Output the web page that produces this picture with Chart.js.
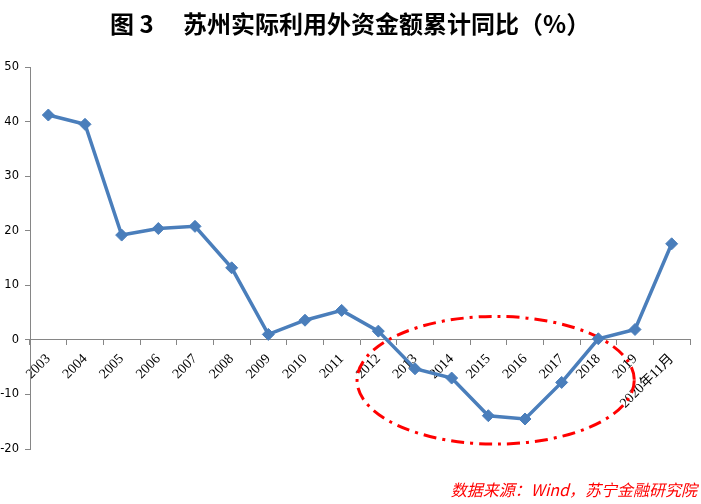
<!DOCTYPE html>
<html>
<head>
<meta charset="utf-8">
<script src="https://cdn.jsdelivr.net/npm/chart.js@4.4.1/dist/chart.umd.min.js"></script>
<style>
  html, body { margin: 0; padding: 0; background: #ffffff; }
  #wrap { width: 701px; height: 504px; position: relative; }
</style>
</head>
<body>
<div id="wrap"><canvas id="c"></canvas></div>
<script>
const titleText = '图 3　 苏州实际利用外资金额累计同比（%）';
const sourceText = '数据来源：Wind，苏宁金融研究院';
const categories = ['2003','2004','2005','2006','2007','2008','2009','2010','2011','2012','2013','2014','2015','2016','2017','2018','2019','2020年11月'];
const values = [41.2, 39.5, 19.2, 20.4, 20.8, 13.2, 1.0, 3.6, 5.4, 1.6, -5.3, -7.0, -13.9, -14.5, -7.8, 0.2, 1.9, 17.6];
const yMin = -20, yMax = 50, yStep = 10;
// highlight ellipse in data units: centre (category index, value), radii (categories, value units)
const ellipseCenter = [12.2, -7.4];
const ellipseRadii = [3.78, 11.7];

const decorPlugin = {
  id: 'decor',
  beforeDatasetsDraw(chart) {
    const ctx = chart.ctx, xs = chart.scales.x, ys = chart.scales.y;
    const cx = xs.getPixelForValue(ellipseCenter[0]);
    const cy = ys.getPixelForValue(ellipseCenter[1]);
    const rx = Math.abs(xs.getPixelForValue(ellipseCenter[0] + ellipseRadii[0]) - cx);
    const ry = Math.abs(ys.getPixelForValue(ellipseCenter[1] + ellipseRadii[1]) - cy);
    ctx.save();
    ctx.strokeStyle = '#FF0000';
    ctx.lineWidth = 3;
    ctx.setLineDash([13, 6, 3, 6]);
    ctx.beginPath();
    ctx.ellipse(cx, cy, rx, ry, 0, 0, Math.PI * 2);
    ctx.stroke();
    ctx.restore();
  },
  afterDraw(chart) {
    const ctx = chart.ctx;
    ctx.save();
    ctx.fillStyle = '#000000';
    ctx.font = 'bold 24px "Noto Sans CJK SC"';
    ctx.textAlign = 'left';
    ctx.textBaseline = 'middle';
    ctx.fillText(titleText, 110, 24);
    ctx.fillStyle = '#FF0000';
    ctx.font = 'italic 16px "Noto Sans CJK SC"';
    ctx.textAlign = 'right';
    ctx.fillText(sourceText, 697, 490);
    ctx.restore();
  }
};

new Chart(document.getElementById('c'), {
  type: 'line',
  data: {
    labels: categories,
    datasets: [{
      data: values,
      borderColor: '#4A7EBB',
      backgroundColor: '#4A7EBB',
      borderWidth: 3.5,
      pointStyle: 'rectRot',
      pointRadius: 6,
      pointBackgroundColor: '#4A7EBB',
      pointBorderColor: '#4A7EBB',
      pointBorderWidth: 1,
      tension: 0,
      fill: false
    }]
  },
  options: {
    responsive: true,
    maintainAspectRatio: false,
    animation: false,
    layout: { padding: { top: 67, bottom: 55, left: 0, right: 11 } },
    plugins: { legend: { display: false }, title: { display: false }, tooltip: { enabled: false } },
    scales: {
      x: {
        type: 'category',
        position: { y: 0 },
        offset: true,
        grid: { display: true, offset: true, drawOnChartArea: false, drawTicks: true, tickLength: 5, color: '#868686' },
        border: { display: true, color: '#868686', width: 1 },
        ticks: {
          autoSkip: false,
          minRotation: 45,
          maxRotation: 45,
          padding: 6,
          color: '#000000',
          font: { family: '"Liberation Serif", "Noto Sans CJK SC"', size: 14 }
        }
      },
      y: {
        min: yMin,
        max: yMax,
        afterFit(scale) { scale.width = 30; },
        grid: { display: true, drawOnChartArea: false, drawTicks: true, tickLength: 5, color: '#868686' },
        border: { display: true, color: '#868686', width: 1 },
        ticks: {
          stepSize: yStep,
          padding: 6,
          color: '#000000',
          font: { family: '"DejaVu Sans"', size: 11.5 }
        }
      }
    }
  },
  plugins: [decorPlugin]
});
</script>
</body>
</html>
